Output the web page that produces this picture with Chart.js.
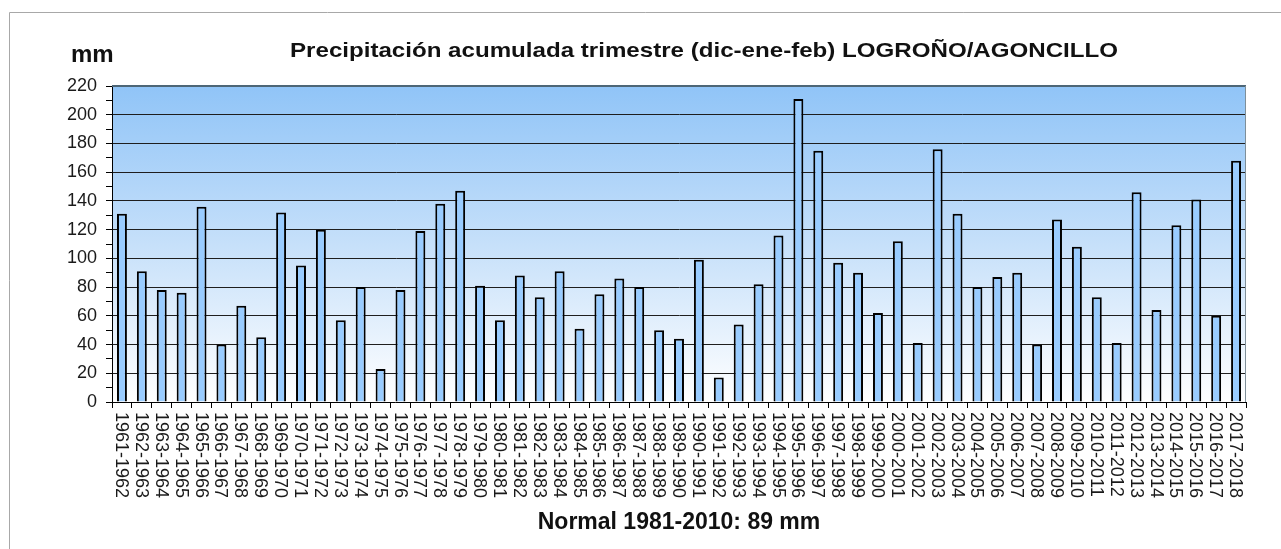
<!DOCTYPE html>
<html><head><meta charset="utf-8">
<script src="https://cdn.jsdelivr.net/npm/chart.js@4.4.0/dist/chart.umd.min.js"></script>
<style>html,body{margin:0;padding:0;background:#fff;overflow:hidden}canvas{display:block}</style>
</head><body>
<canvas id="c" width="1281" height="549"></canvas>
<script>
const categories = ["1961-1962","1962-1963","1963-1964","1964-1965","1965-1966","1966-1967","1967-1968","1968-1969","1969-1970","1970-1971","1971-1972","1972-1973","1973-1974","1974-1975","1975-1976","1976-1977","1977-1978","1978-1979","1979-1980","1980-1981","1981-1982","1982-1983","1983-1984","1984-1985","1985-1986","1986-1987","1987-1988","1988-1989","1989-1990","1990-1991","1991-1992","1992-1993","1993-1994","1994-1995","1995-1996","1996-1997","1997-1998","1998-1999","1999-2000","2000-2001","2001-2002","2002-2003","2003-2004","2004-2005","2005-2006","2006-2007","2007-2008","2008-2009","2009-2010","2010-2011","2011-2012","2012-2013","2013-2014","2014-2015","2015-2016","2016-2017","2017-2018"];
const precipitation = [131,91,78,76,136,40,67,45,132,95,120,57,80,23,78,119,138,147,81,57,88,73,91,51,75,86,80,50,44,99,17,54,82,116,211,175,97,90,62,112,41,176,131,80,87,90,40,127,108,73,41,146,64,123,141,60,168];
const yMin = 0, yMax = 220, yMajorStep = 20, yMinorStep = 10;
const titleText = "Precipitación acumulada trimestre (dic-ene-feb) LOGROÑO/AGONCILLO";
const unitText = "mm";
const xTitleText = "Normal 1981-2010: 89 mm";
const FONT = "'Liberation Sans', Arial, Helvetica, sans-serif";

const decor = {
  id: 'decor',
  beforeDraw(chart) {
    const {ctx, chartArea: a} = chart;
    ctx.save();
    ctx.fillStyle = '#fff';
    ctx.fillRect(0, 0, chart.width, chart.height);
    ctx.strokeStyle = '#a8a8a8';
    ctx.lineWidth = 1;
    ctx.beginPath();
    ctx.moveTo(9.5, chart.height);
    ctx.lineTo(9.5, 12.5);
    ctx.lineTo(chart.width, 12.5);
    ctx.stroke();
    const g = ctx.createLinearGradient(0, a.top, 0, a.bottom);
    g.addColorStop(0, '#90c4f7');
    g.addColorStop(0.5, '#c6e0fa');
    g.addColorStop(1, '#ffffff');
    ctx.fillStyle = g;
    ctx.fillRect(a.left, a.top, a.right - a.left, a.bottom - a.top);
    ctx.restore();
  },
  afterDraw(chart) {
    const {ctx, chartArea: a} = chart;
    ctx.save();
    ctx.strokeStyle = '#4d6676';
    ctx.lineWidth = 2;
    ctx.beginPath();
    ctx.moveTo(a.left, a.top);
    ctx.lineTo(a.right, a.top);
    ctx.stroke();
    ctx.strokeStyle = '#7f8f99';
    ctx.lineWidth = 1;
    ctx.beginPath();
    ctx.moveTo(a.right - 0.5, a.top);
    ctx.lineTo(a.right - 0.5, a.bottom);
    ctx.stroke();
    // main title, horizontally stretched like the original
    ctx.fillStyle = '#111';
    ctx.textBaseline = 'alphabetic';
    ctx.font = "bold 21px " + FONT;
    ctx.textAlign = 'left';
    const tw = ctx.measureText(titleText).width;
    const targetW = 828;
    ctx.save();
    ctx.translate(290, 57);
    ctx.scale(targetW / tw, 1);
    ctx.fillText(titleText, 0, 0);
    ctx.restore();
    ctx.font = "bold 24px " + FONT;
    ctx.fillText(unitText, 71, 62);
    const xs = chart.scales.x;
    ctx.font = "18px " + FONT;
    ctx.fillStyle = '#1a1a1a';
    ctx.textAlign = 'left';
    ctx.textBaseline = 'middle';
    categories.forEach((lab, i) => {
      const x = xs.getPixelForValue(i);
      ctx.save();
      ctx.translate(x - 1, a.bottom + 10);
      ctx.rotate(Math.PI / 2);
      ctx.fillText(lab, 0, 0);
      ctx.restore();
    });
    ctx.restore();
  }
};

new Chart(document.getElementById('c'), {
  type: 'bar',
  data: {
    labels: categories,
    datasets: [{
      data: precipitation,
      backgroundColor: '#99ccff',
      borderColor: '#000',
      borderWidth: 2,
      borderSkipped: 'bottom',
      barPercentage: 0.5,
      categoryPercentage: 1
    }]
  },
  options: {
    responsive: false,
    animation: false,
    devicePixelRatio: 1,
    layout: {padding: {top: 86, right: 35, bottom: 0, left: 0}},
    plugins: {legend: {display: false}, title: {display: false}, tooltip: {enabled: false}},
    scales: {
      x: {
        type: 'category',
        offset: true,
        grid: {offset: true, drawOnChartArea: false, drawTicks: true, tickLength: 6, tickColor: '#000', color: '#000'},
        border: {display: true, color: '#000', width: 1},
        ticks: {display: false, autoSkip: false},
        title: {display: true, text: xTitleText, color: '#111', font: {family: FONT, size: 23, weight: 'bold'}, padding: {top: 0, bottom: 13}},
        afterFit: s => { s.height = 147; }
      },
      y: {
        min: yMin, max: yMax,
        ticks: {
          stepSize: yMinorStep, autoSkip: false, padding: 9, color: '#1a1a1a',
          font: {family: FONT, size: 18},
          callback: v => (v % yMajorStep === 0 ? String(v) : '')
        },
        grid: {
          color: c => (c.tick && c.tick.value % yMajorStep === 0 && c.tick.value > yMin && c.tick.value < yMax) ? '#1e1e1e' : 'rgba(0,0,0,0)',
          borderDash: [3, 2],
          tickBorderDash: [],
          tickColor: '#000',
          tickLength: 6,
          lineWidth: 1
        },
        border: {display: true, color: '#000', width: 1},
        afterFit: s => { s.width = 112; }
      }
    }
  },
  plugins: [decor]
});
</script>
</body></html>
